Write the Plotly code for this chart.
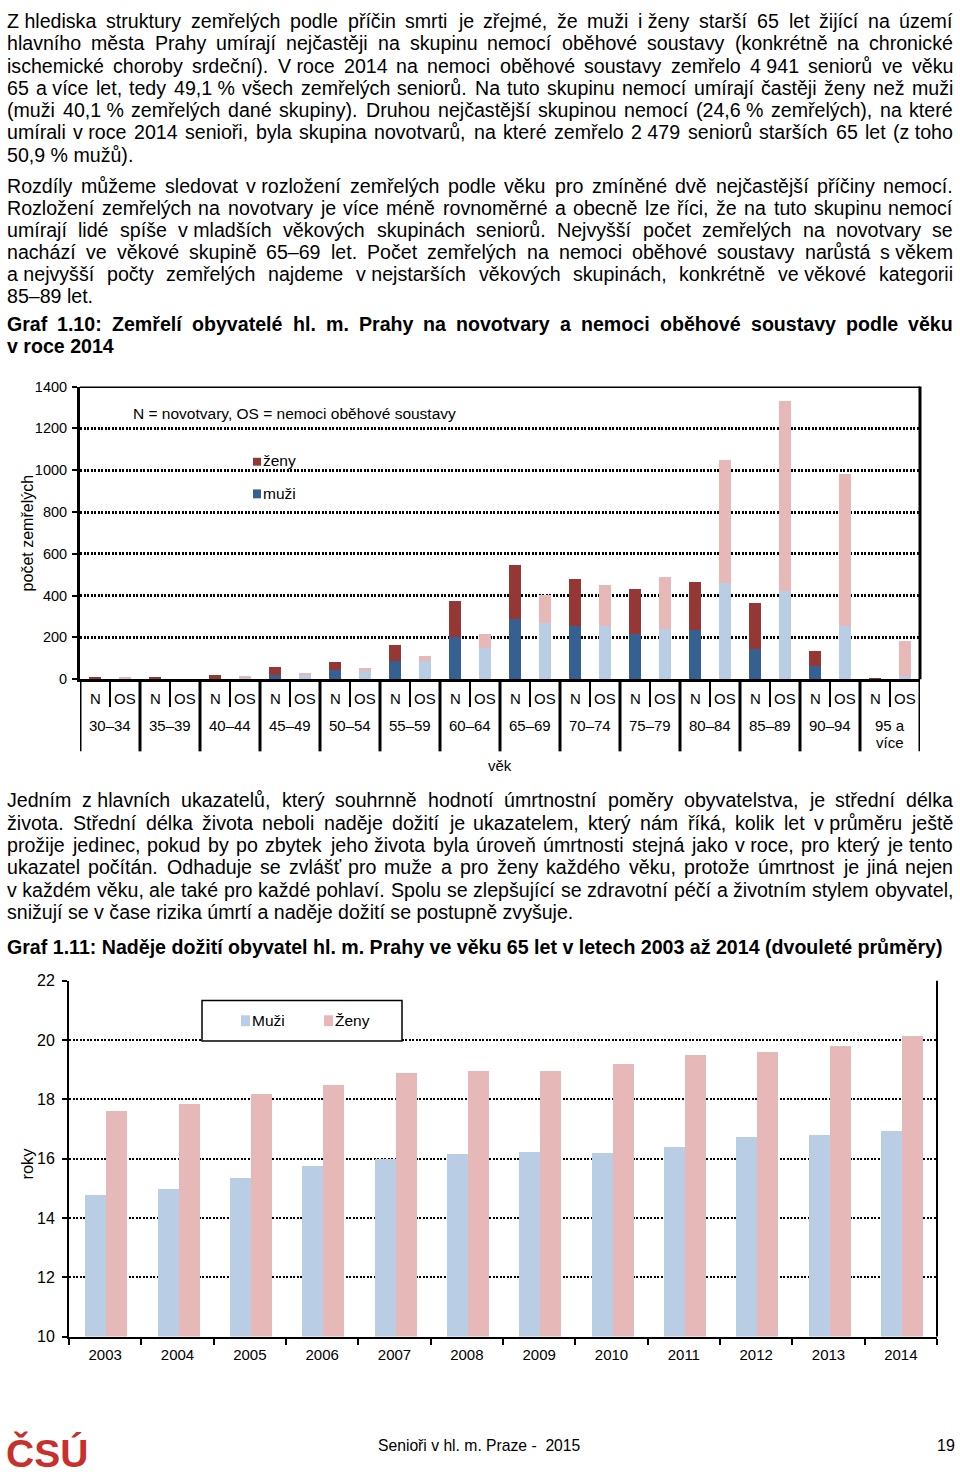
import unicodedata
import plotly.graph_objects as go

# ---------------------------------------------------------------- page geometry
W = 960
H = 1481


def PX(x):
    return x / W


def PY(y):
    return 1 - y / H


FONT = "Liberation Sans, Arial, Helvetica, sans-serif"
BODY = 19.6

# ---------------------------------------------------------------- data: chart 1.10
age_groups = ["30–34", "35–39", "40–44", "45–49", "50–54", "55–59", "60–64",
              "65–69", "70–74", "75–79", "80–84", "85–89", "90–94", "95 a více"]
sub_labels = ["N", "OS"]
n_muzi = [5, 3, 4, 24, 44, 87, 202, 291, 256, 216, 237, 148, 63, 1]
n_zeny = [9, 6, 20, 34, 40, 79, 174, 255, 224, 217, 229, 218, 74, 3]
os_muzi = [5, 1, 10, 26, 41, 90, 153, 272, 256, 243, 461, 422, 256, 19]
os_zeny = [8, 1, 6, 4, 16, 24, 63, 134, 197, 250, 589, 911, 726, 166]
y1_ticks = [0, 200, 400, 600, 800, 1000, 1200, 1400]

# ---------------------------------------------------------------- data: chart 1.11
years = ["2003", "2004", "2005", "2006", "2007", "2008",
         "2009", "2010", "2011", "2012", "2013", "2014"]
e_muzi = [14.8, 15.0, 15.35, 15.75, 16.0, 16.15, 16.25, 16.2, 16.4, 16.75, 16.8, 16.95]
e_zeny = [17.6, 17.85, 18.2, 18.5, 18.9, 18.95, 18.95, 19.2, 19.5, 19.6, 19.8, 20.15]
y2_ticks = [10, 12, 14, 16, 18, 20, 22]

DARK_RED = "#953735"
DARK_BLUE = "#376092"
LIGHT_BLUE = "#B9CDE5"
PINK = "#E6B9B8"

# ---------------------------------------------------------------- texts ("~" = non-breaking space)
para1 = [
    "Z~hlediska struktury zemřelých podle příčin smrti je zřejmé, že muži i~ženy starší 65 let žijící na území",
    "hlavního města Prahy umírají nejčastěji na skupinu nemocí oběhové soustavy (konkrétně na chronické",
    "ischemické choroby srdeční). V~roce 2014 na nemoci oběhové soustavy zemřelo 4~941 seniorů ve věku",
    "65 a~více let, tedy 49,1~% všech zemřelých seniorů. Na tuto skupinu nemocí umírají častěji ženy než muži",
    "(muži 40,1~% zemřelých dané skupiny). Druhou nejčastější skupinou nemocí (24,6~% zemřelých), na které",
    "umírali v~roce 2014 senioři, byla skupina novotvarů, na které zemřelo 2~479 seniorů starších 65 let (z~toho",
    "50,9~% mužů).",
]
para2 = [
    "Rozdíly můžeme sledovat v~rozložení zemřelých podle věku pro zmíněné dvě nejčastější příčiny nemocí.",
    "Rozložení zemřelých na novotvary je více méně rovnoměrné a obecně lze říci, že na tuto skupinu nemocí",
    "umírají lidé spíše v~mladších věkových skupinách seniorů. Nejvyšší počet zemřelých na novotvary se",
    "nachází ve věkové skupině 65–69 let. Počet zemřelých na nemoci oběhové soustavy narůstá s~věkem",
    "a~nejvyšší počty zemřelých najdeme v~nejstarších věkových skupinách, konkrétně ve~věkové kategorii",
    "85–89 let.",
]
title1 = [
    "Graf 1.10: Zemřelí obyvatelé hl. m. Prahy na novotvary a nemoci oběhové soustavy podle věku",
    "v roce 2014",
]
para3 = [
    "Jedním z~hlavních ukazatelů, který souhrnně hodnotí úmrtnostní poměry obyvatelstva, je střední délka",
    "života. Střední délka života neboli naděje dožití je ukazatelem, který nám říká, kolik let v~průměru ještě",
    "prožije jedinec, pokud by po zbytek jeho života byla úroveň úmrtnosti stejná jako v~roce, pro který je tento",
    "ukazatel počítán. Odhaduje se zvlášť pro muže a pro ženy každého věku, protože úmrtnost je jiná nejen",
    "v~každém věku, ale také pro každé pohlaví. Spolu se zlepšující se zdravotní péčí a životním stylem obyvatel,",
    "snižují se v čase rizika úmrtí a naděje dožití se postupně zvyšuje.",
]
title2 = ["Graf 1.11: Naděje dožití obyvatel hl. m. Prahy ve věku 65 let v letech 2003 až 2014 (dvouleté průměry)"]

# ---------------------------------------------------------------- Arial / Liberation Sans advance widths
REG = {' ': 278, '\u00a0': 278, '%': 889, '(': 333, ')': 333, ',': 278, '-': 333, '.': 278,
       ':': 278, '=': 584, '–': 556}
BLD = {' ': 278, '\u00a0': 278, '%': 889, '(': 333, ')': 333, ',': 278, '-': 333, '.': 278,
       ':': 333, '=': 584, '–': 556}
for d in "0123456789":
    REG[d] = 556
    BLD[d] = 556
REG.update(dict(zip("ABCDEFGHIJKLMNOPQRSTUVWXYZ",
                    [667, 667, 722, 722, 667, 611, 778, 722, 278, 500, 667, 556, 833, 722, 778, 667,
                     778, 722, 667, 611, 722, 667, 944, 667, 667, 611])))
REG.update(dict(zip("abcdefghijklmnopqrstuvwxyz",
                    [556, 556, 500, 556, 556, 278, 556, 556, 222, 222, 500, 222, 833, 556, 556, 556,
                     556, 333, 500, 278, 556, 500, 722, 500, 500, 500])))
BLD.update(dict(zip("ABCDEFGHIJKLMNOPQRSTUVWXYZ",
                    [722, 722, 722, 722, 667, 611, 778, 722, 278, 556, 722, 611, 833, 722, 778, 667,
                     778, 722, 667, 611, 722, 667, 944, 667, 667, 611])))
BLD.update(dict(zip("abcdefghijklmnopqrstuvwxyz",
                    [556, 611, 556, 611, 556, 333, 611, 611, 278, 278, 556, 278, 889, 611, 611, 611,
                     611, 389, 556, 333, 611, 556, 778, 556, 556, 500])))


def char_w(ch, bold):
    table = BLD if bold else REG
    if ch in table:
        return table[ch]
    if ch == 'í':
        return 278
    base = unicodedata.normalize('NFD', ch)[0]
    return table.get(base, 556)


def text_w(s, size, bold=False):
    return sum(char_w(c, bold) for c in s) / 1000.0 * size


annotations = []


def ann(text, x, y, size, xanchor="left", bold=False, color="black", xref="paper",
        yref="paper", angle=0, family=FONT):
    annotations.append(dict(
        text=text, x=x, y=y, xref=xref, yref=yref, showarrow=False,
        xanchor=xanchor, yanchor="middle", textangle=angle,
        borderpad=0, borderwidth=0,
        font=dict(family=family, size=size, color=color, weight="bold" if bold else "normal")))


def add_line(text, y, justify=True, bold=False, size=BODY, x0=7, x1=953):
    words = [w.replace("~", "\u00a0") for w in text.split(" ")]
    if not justify or len(words) == 1:
        ann(" ".join(words), PX(x0), PY(y), size, bold=bold)
        return
    widths = [text_w(w, size, bold) for w in words]
    gap = (x1 - x0 - sum(widths)) / (len(words) - 1)
    x = x0
    for i, w in enumerate(words):
        if i == len(words) - 1:
            ann(w, PX(x1), PY(y), size, xanchor="right", bold=bold)
        else:
            ann(w, PX(x), PY(y), size, bold=bold)
        x += widths[i] + gap


def add_par(lines, y0, step, bold=False):
    for k, line in enumerate(lines):
        add_line(line, y0 + k * step, justify=(k < len(lines) - 1), bold=bold)


add_par(para1, 13.3, 22.5)
add_par(para2, 180.2, 22.3)
add_par(title1, 320.0, 21.7, bold=True)
add_par(para3, 801.6, 22.6)
add_par(title2, 950.0, 22.6, bold=True)

# ---------------------------------------------------------------- figure
fig = go.Figure()

xN = [2 * i for i in range(len(age_groups))]
xOS = [2 * i + 1 for i in range(len(age_groups))]

fig.add_bar(x=xN, y=n_muzi, width=0.42, marker=dict(color=DARK_BLUE, line=dict(width=0)),
            name="muži (N)", xaxis="x", yaxis="y", showlegend=False)
fig.add_bar(x=xN, y=n_zeny, base=n_muzi, width=0.42, marker=dict(color=DARK_RED, line=dict(width=0)),
            name="ženy (N)", xaxis="x", yaxis="y", showlegend=False)
fig.add_bar(x=xOS, y=os_muzi, width=0.42, marker=dict(color=LIGHT_BLUE, line=dict(width=0)),
            name="muži (OS)", xaxis="x", yaxis="y", showlegend=False)
fig.add_bar(x=xOS, y=os_zeny, base=os_muzi, width=0.42, marker=dict(color=PINK, line=dict(width=0)),
            name="ženy (OS)", xaxis="x", yaxis="y", showlegend=False)

fig.add_bar(x=years, y=e_muzi, width=0.29, offset=-0.275, marker=dict(color=LIGHT_BLUE, line=dict(width=0)),
            name="Muži", xaxis="x2", yaxis="y2", showlegend=False)
fig.add_bar(x=years, y=e_zeny, width=0.29, offset=0.015, marker=dict(color=PINK, line=dict(width=0)),
            name="Ženy", xaxis="x2", yaxis="y2", showlegend=False)

shapes = []

# chart 1 frame
shapes.append(dict(type="line", xref="x domain", yref="y", x0=0, x1=1, y0=1400, y1=1400,
                   line=dict(color="black", width=3)))
shapes.append(dict(type="line", xref="x domain", yref="y domain", x0=1, x1=1, y0=0, y1=1,
                   line=dict(color="black", width=3)))
# chart 1 category separators below the axis
n_slots = 2 * len(age_groups)
for i in range(len(age_groups) + 1):
    xs = 2 * i - 0.5
    shapes.append(dict(type="line", xref="x", yref="paper", x0=xs, x1=xs,
                       y0=PY(679), y1=PY(752), line=dict(color="black", width=3)))
for i in range(len(age_groups)):
    xs = 2 * i + 0.5
    shapes.append(dict(type="line", xref="x", yref="paper", x0=xs, x1=xs,
                       y0=PY(679), y1=PY(707), line=dict(color="black", width=2)))
# chart 1 category labels
for i, g in enumerate(age_groups):
    ann(sub_labels[0], 2 * i, PY(699), 15, xanchor="center", xref="x")
    ann(sub_labels[1], 2 * i + 1, PY(699), 15, xanchor="center", xref="x")
    parts = g.split(" ")
    if len(parts) == 1:
        ann(g, 2 * i + 0.5, PY(726), 15, xanchor="center", xref="x")
    else:
        ann(" ".join(parts[:2]), 2 * i + 0.5, PY(726), 15, xanchor="center", xref="x")
        ann(" ".join(parts[2:]), 2 * i + 0.5, PY(743), 15, xanchor="center", xref="x")
ann("věk", PX(500), PY(766), 15, xanchor="center")
ann("počet zemřelých", PX(27.5), PY(531), 16, xanchor="center", angle=-90)
ann("N = novotvary, OS = nemoci oběhové soustavy", PX(133), PY(410), 15.5)
# chart 1 legend
shapes.append(dict(type="rect", xref="paper", yref="paper", x0=PX(253), x1=PX(261),
                   y0=PY(463), y1=PY(455), fillcolor=DARK_RED, line=dict(width=0)))
shapes.append(dict(type="rect", xref="paper", yref="paper", x0=PX(253), x1=PX(261),
                   y0=PY(496), y1=PY(487), fillcolor=DARK_BLUE, line=dict(width=0)))
ann("ženy", PX(263), PY(458), 15.5)
ann("muži", PX(263), PY(491), 15.5)

# chart 2 frame + legend
shapes.append(dict(type="line", xref="x2 domain", yref="y2 domain", x0=1, x1=1, y0=0, y1=1,
                   line=dict(color="black", width=2)))
shapes.append(dict(type="rect", xref="paper", yref="paper", x0=PX(202), x1=PX(402),
                   y0=PY(1045), y1=PY(1004), line=dict(color="black", width=1.5), fillcolor="white"))
shapes.append(dict(type="rect", xref="paper", yref="paper", x0=PX(241), x1=PX(250),
                   y0=PY(1030), y1=PY(1019), fillcolor=LIGHT_BLUE, line=dict(width=0)))
shapes.append(dict(type="rect", xref="paper", yref="paper", x0=PX(324), x1=PX(333),
                   y0=PY(1030), y1=PY(1019), fillcolor=PINK, line=dict(width=0)))
ann("Muži", PX(252), PY(1024), 15.5)
ann("Ženy", PX(335), PY(1024), 15.5)
ann("roky", PX(27), PY(1169), 16.5, xanchor="center", angle=-90)

# footer
ann("ČSÚ", PX(6), PY(1462), 39, bold=True, color="#C8302C",
    family="Liberation Sans Narrow, Liberation Sans, Arial, sans-serif")
ann("Senioři v hl. m. Praze -\u00a0 2015", PX(378), PY(1454), 15.7)
ann("19", PX(955), PY(1454), 16, xanchor="right")

fig.update_layout(
    width=W, height=H,
    margin=dict(l=0, r=0, t=0, b=0),
    paper_bgcolor="white", plot_bgcolor="white",
    barmode="overlay", bargap=0,
    showlegend=False,
    font=dict(family=FONT, color="black"),
    xaxis=dict(domain=[PX(80), PX(920)], range=[-0.5, n_slots - 0.5], anchor="y",
               showgrid=False, zeroline=False, showline=True, linecolor="black", linewidth=3,
               ticks="", showticklabels=False, fixedrange=True),
    yaxis=dict(domain=[PY(679), PY(383)], range=[0, 1400], anchor="x",
               tickmode="array", tickvals=y1_ticks, ticktext=[str(v) for v in y1_ticks],
               showgrid=True, gridcolor="black", gridwidth=2.5, griddash="2px,1.5px",
               zeroline=False, showline=True, linecolor="black", linewidth=3,
               ticks="outside", ticklen=5, tickwidth=2, tickcolor="black", ticklabelstandoff=2,
               tickfont=dict(size=14.5, color="black"), fixedrange=True),
    xaxis2=dict(domain=[PX(69), PX(937)], type="category", anchor="y2",
                showgrid=False, zeroline=False, showline=True, linecolor="black", linewidth=2,
                ticks="outside", tickson="boundaries", ticklen=6, tickwidth=2, tickcolor="black",
                ticklabelstandoff=3,
                tickfont=dict(size=15, color="black"), fixedrange=True),
    yaxis2=dict(domain=[PY(1344), PY(984)], range=[10, 22], anchor="x2",
                tickmode="array", tickvals=y2_ticks, ticktext=[str(v) for v in y2_ticks],
                showgrid=True, gridcolor="black", gridwidth=1.5, griddash="2px,1.5px",
                zeroline=False, showline=True, linecolor="black", linewidth=2,
                ticks="outside", ticklen=5, tickwidth=2, tickcolor="black", ticklabelstandoff=4,
                tickfont=dict(size=16, color="black"), fixedrange=True),
    shapes=shapes,
    annotations=annotations,
)

fig.write_html(
    "out.html",
    config={"displayModeBar": False},
    post_script="document.documentElement.style.margin='0';document.body.style.margin='0';"
                "document.body.style.overflow='hidden';",
)
